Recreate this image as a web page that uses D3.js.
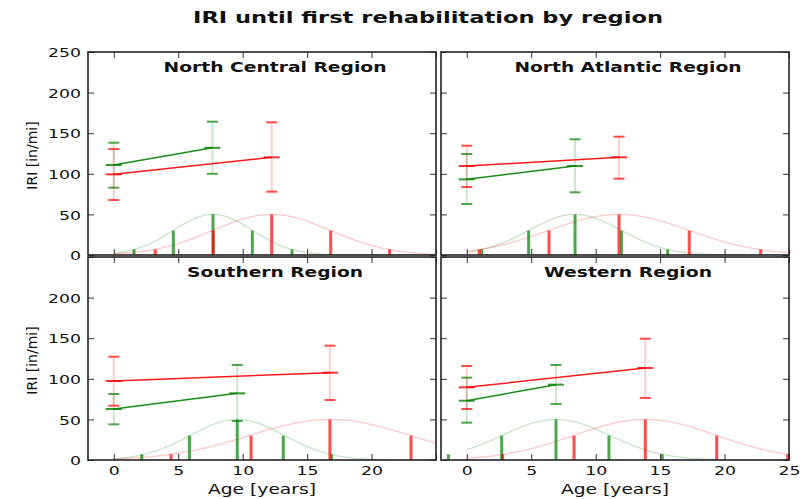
<!DOCTYPE html>
<html>
<head>
<meta charset="utf-8">
<script src="https://cdn.jsdelivr.net/npm/d3@7"></script>
<style>
  body { margin: 0; background: #fff; }
  text { font-family: "DejaVu Sans", sans-serif; fill: #111; }
</style>
</head>
<body>
<script>
// region order: top-left, top-right, bottom-left, bottom-right
const regions = ["North Central Region", "North Atlantic Region", "Southern Region", "Western Region"];

// green series: IRI at age 0 and at mean age of first rehab, with error bars
const greenStartIRI  = [110.8, 93.2, 62.8, 73.0];
const greenStartLow  = [82.9, 62.8, 43.9, 46.0];
const greenStartHigh = [138.3, 124.4, 81.3, 101.4];
const greenEndAge    = [7.65, 8.4, 9.58, 6.92];
const greenEndIRI    = [132.0, 109.6, 82.1, 92.8];
const greenEndLow    = [100.0, 77.2, 48.0, 69.0];
const greenEndHigh   = [164.2, 142.5, 117.0, 117.0];

// red series
const redStartIRI  = [99.3, 109.6, 97.3, 89.5];
const redStartLow  = [67.7, 83.7, 66.9, 62.8];
const redStartHigh = [130.5, 134.6, 127.2, 115.8];
const redEndAge    = [12.25, 11.81, 16.77, 13.85];
const redEndIRI    = [120.3, 120.3, 107.5, 113.3];
const redEndLow    = [78.0, 94.0, 73.9, 76.4];
const redEndHigh   = [163.4, 145.7, 140.8, 149.4];

// age distribution stems (ages) and their heights
const greenBarAges = [
  [1.57, 4.62, 7.70, 10.75, 13.83],
  [1.16, 4.80, 8.40, 12.00, 15.59],
  [2.17, 5.87, 9.58, 13.15, 16.90],
  [-1.43, 2.71, 6.92, 11.03, 15.17]
];
const redBarAges = [
  [3.22, 7.72, 12.25, 16.83, 21.40],
  [0.97, 6.38, 11.81, 17.26, 22.80],
  [4.44, 10.65, 16.77, 23.06, 29.20],
  [2.78, 8.32, 13.85, 19.39, 24.90]
];
const barHeights = [7, 30, 50, 30, 7];

const xTicks = [0, 5, 10, 15, 20, 25];
const yTicksTop = [0, 50, 100, 150, 200, 250];
const yTicksBottom = [0, 50, 100, 150, 200];

const GREEN = "#008000", RED = "#ff0000";
const W = 811, H = 499;

const svg = d3.select("body").append("svg")
  .attr("width", W).attr("height", H);
svg.append("rect").attr("width", W).attr("height", H).attr("fill", "#fff");

// stretch text horizontally like the reference
function stretch(sel, k) {
  sel.each(function() {
    const w = this.getComputedTextLength();
    if (w > 0) {
      this.setAttribute("textLength", w * k);
      this.setAttribute("lengthAdjust", "spacingAndGlyphs");
    }
  });
}

svg.append("text")
  .attr("x", 428).attr("y", 23)
  .attr("text-anchor", "middle")
  .style("font-size", "16px").style("font-weight", "bold")
  .attr("textLength", 470).attr("lengthAdjust", "spacingAndGlyphs")
  .text("IRI until first rehabilitation by region");

const colX = [88, 441], rowY = [52, 257];
const pw = 348, ph = 203;

const x = d3.scaleLinear().domain([-2, 25]).range([0, pw]);
const y = d3.scaleLinear().domain([0, 250]).range([ph, 0]);

const curve = d3.line().x(d => x(d[0])).y(d => y(d[1]));

regions.forEach((name, i) => {
  const col = i % 2, row = Math.floor(i / 2);
  const g = svg.append("g").attr("transform", `translate(${colX[col]},${rowY[row]})`);

  g.append("clipPath").attr("id", "clip" + i)
    .append("rect").attr("width", pw).attr("height", ph);
  const plot = g.append("g").attr("clip-path", `url(#clip${i})`);

  // distributions: curve + stems
  const series = [
    {c: GREEN, bars: greenBarAges[i]},
    {c: RED, bars: redBarAges[i]}
  ];
  series.forEach(s => {
    const mu = s.bars[2], sd = (s.bars[3] - s.bars[1]) / 2;
    const pts = d3.range(0, 25.01, 0.1).map(a => [a, 50 * Math.exp(-0.5 * ((a - mu) / sd) ** 2)]);
    plot.append("path").attr("d", curve(pts))
      .attr("fill", "none").attr("stroke", s.c)
      .attr("stroke-opacity", 0.22).attr("stroke-width", 1.3);
  });
  series.forEach(s => {
    plot.selectAll(null).data(s.bars).enter().append("line")
      .attr("x1", d => x(d)).attr("x2", d => x(d))
      .attr("y1", y(0)).attr("y2", (d, k) => y(barHeights[k]))
      .attr("stroke", s.c).attr("stroke-width", 3).attr("stroke-opacity", 0.7);
  });

  // error bars and lines
  const lines = [
    {c: GREEN, pts: [
      {a: 0, m: greenStartIRI[i], lo: greenStartLow[i], hi: greenStartHigh[i]},
      {a: greenEndAge[i], m: greenEndIRI[i], lo: greenEndLow[i], hi: greenEndHigh[i]}]},
    {c: RED, pts: [
      {a: 0, m: redStartIRI[i], lo: redStartLow[i], hi: redStartHigh[i]},
      {a: redEndAge[i], m: redEndIRI[i], lo: redEndLow[i], hi: redEndHigh[i]}]}
  ];
  lines.forEach(s => {
    s.pts.forEach(p => {
      plot.append("line")
        .attr("x1", x(p.a)).attr("x2", x(p.a))
        .attr("y1", y(p.lo)).attr("y2", y(p.hi))
        .attr("stroke", s.c).attr("stroke-opacity", 0.2).attr("stroke-width", 2);
      [p.lo, p.hi].forEach(v => {
        plot.append("line")
          .attr("x1", x(p.a) - 5.5).attr("x2", x(p.a) + 5.5)
          .attr("y1", y(v)).attr("y2", y(v))
          .attr("stroke", s.c).attr("stroke-opacity", 0.7).attr("stroke-width", 2);
      });
    });
  });
  lines.forEach(s => {
    plot.append("path")
      .attr("d", d3.line().x(p => x(p.a)).y(p => y(p.m))(s.pts))
      .attr("fill", "none").attr("stroke", s.c).attr("stroke-width", 1.5).attr("stroke-opacity", 0.9);
    s.pts.forEach(p => {
      plot.append("line")
        .attr("x1", x(p.a) - 8).attr("x2", x(p.a) + 8)
        .attr("y1", y(p.m)).attr("y2", y(p.m))
        .attr("stroke", s.c).attr("stroke-opacity", 0.8).attr("stroke-width", 2);
    });
  });

  // axes, ticks inward
  const yt = row === 0 ? yTicksTop : yTicksBottom;
  const ax = (axis) => axis.tickSizeOuter(0).tickSize(-6).tickPadding(7);
  const left = g.append("g").call(ax(d3.axisLeft(y)).tickValues(yTicksTop)
    .tickFormat(d => (col === 0 && yt.includes(d)) ? d : ""));
  g.append("g").attr("transform", `translate(${pw},0)`)
    .call(ax(d3.axisRight(y)).tickValues(yTicksTop).tickFormat(""));
  const bottom = g.append("g").attr("transform", `translate(0,${ph})`)
    .call(ax(d3.axisBottom(x)).tickValues(xTicks).tickPadding(6)
      .tickFormat(d => (row === 1 && (col === 1 || d !== 25)) ? d : ""));
  g.append("g").call(ax(d3.axisTop(x)).tickValues(xTicks).tickFormat(""));
  g.selectAll(".domain").remove();
  g.selectAll(".tick line").attr("stroke", "#333").attr("stroke-width", 1);
  g.selectAll(".tick text").style("font-size", "13px").attr("fill", "#111");
  left.selectAll(".tick text").attr("dy", "0.36em");
  bottom.selectAll(".tick text").attr("dy", "0.72em");
  stretch(g.selectAll(".tick text"), 1.33);

  g.append("rect").attr("width", pw).attr("height", ph)
    .attr("fill", "none").attr("stroke", "#222").attr("stroke-width", 1.6);

  // panel title
  const titleW = [223, 227, 176, 168];
  g.append("text")
    .attr("x", pw / 2 + 13).attr("y", 20)
    .attr("text-anchor", "middle")
    .style("font-size", "14.5px").style("font-weight", "bold")
    .attr("textLength", titleW[i]).attr("lengthAdjust", "spacingAndGlyphs")
    .text(name);

  if (col === 0) {
    svg.append("text")
      .attr("transform", `translate(37,${rowY[row] + ph / 2 + 2}) rotate(-90)`)
      .attr("text-anchor", "middle")
      .style("font-size", "14px")
      .text("IRI [in/mi]");
  }
  if (row === 1) {
    svg.append("text")
      .attr("x", colX[col] + pw / 2).attr("y", 494)
      .attr("text-anchor", "middle")
      .style("font-size", "13.5px")
      .attr("textLength", 108).attr("lengthAdjust", "spacingAndGlyphs")
      .text("Age [years]");
  }
});
</script>
</body>
</html>
